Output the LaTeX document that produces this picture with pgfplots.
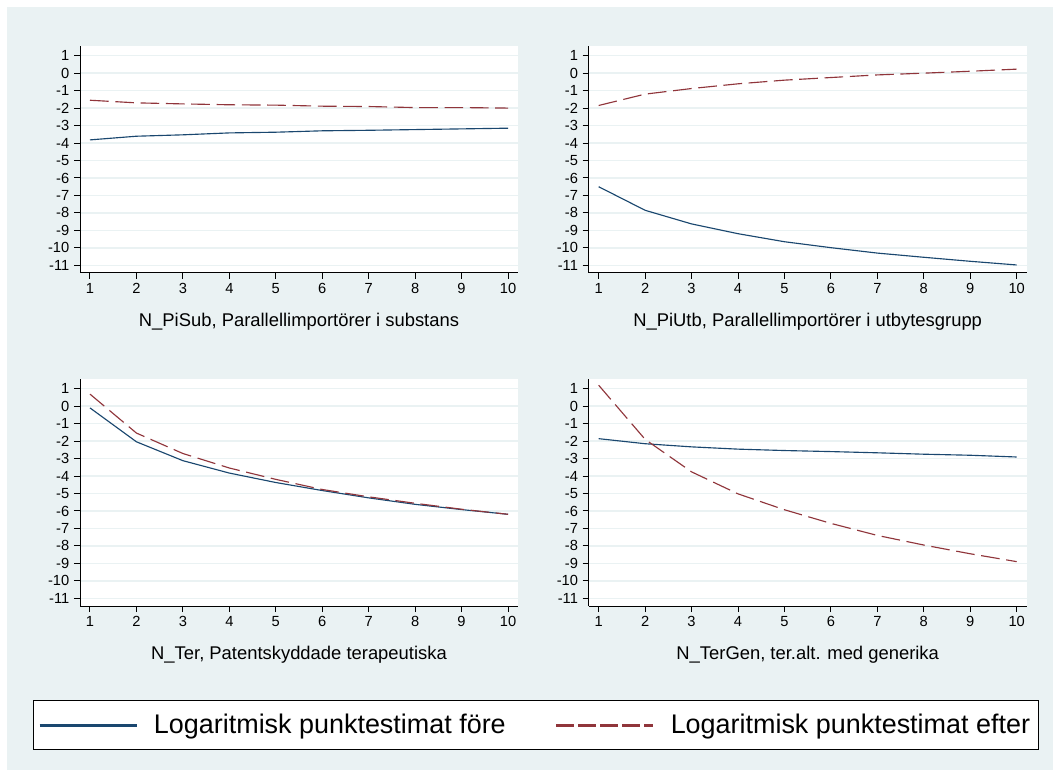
\documentclass[border=0pt]{standalone}
\usepackage{fontspec}
\setmainfont{Liberation Sans}
\usepackage{pgfplots}
\pgfplotsset{compat=1.18}
\definecolor{bgc}{RGB}{234,242,243}
\definecolor{sblue}{RGB}{26,71,111}
\definecolor{sred}{RGB}{144,53,59}
\pgfplotsset{
  stpanel/.style={
    scale only axis, width=328.5pt, height=170.25pt,
    xmin=0.785, xmax=10.215, ymin=-11.44, ymax=1.555,
    axis x line*=bottom, axis y line*=left,
    axis line style={black, line width=0.75pt},
    xtick={1,...,10}, ytick={-11,...,1},
    tick align=outside, major tick length=4.5pt,
    every tick/.style={black, line width=0.75pt},
    ymajorgrids, grid style={bgc, line width=1pt},
    axis background/.style={fill=white},
    /pgf/number format/assume math mode=true,
    ticklabel style={font=\fontsize{11}{13}\selectfont, text=black},
    xlabel style={font=\fontsize{13.8}{16}\selectfont, yshift=-7.5pt},
    clip=false,
  },
  blueline/.style={sblue, line width=0.85pt, no markers},
  redline/.style={sred, line width=0.85pt, no markers, dash pattern=on 14pt off 5pt},
}
\begin{document}
\begin{tikzpicture}
\path[fill=white] (0,0) rectangle (789.75pt,-577.5pt);
\fill[bgc] (5.25pt,-5.25pt) rectangle (789.75pt,-577.5pt);
% panel 1
\begin{axis}[stpanel, at={(60pt,-34.5pt)}, anchor=north west,
  xlabel={N\_PiSub, Parallellimportörer i substans}]
\addplot[blueline] coordinates {(1,-3.82) (2,-3.61) (3,-3.53) (4,-3.42) (5,-3.38) (6,-3.30) (7,-3.27) (8,-3.23) (9,-3.19) (10,-3.15)};
\addplot[redline] coordinates {(1,-1.55) (2,-1.70) (3,-1.76) (4,-1.81) (5,-1.83) (6,-1.89) (7,-1.91) (8,-1.97) (9,-1.97) (10,-2.00)};
\end{axis}
% panel 2
\begin{axis}[stpanel, at={(441.5pt,-34.5pt)}, anchor=north west,
  xlabel={N\_PiUtb, Parallellimportörer i utbytesgrupp}]
\addplot[blueline] coordinates {(1,-6.50) (2,-7.85) (3,-8.63) (4,-9.19) (5,-9.65) (6,-9.99) (7,-10.30) (8,-10.54) (9,-10.77) (10,-10.98)};
\addplot[redline] coordinates {(1,-1.85) (2,-1.20) (3,-0.88) (4,-0.61) (5,-0.40) (6,-0.25) (7,-0.10) (8,0.00) (9,0.11) (10,0.23)};
\end{axis}
% panel 3
\begin{axis}[stpanel, at={(60pt,-284.25pt)}, anchor=north west,
  xlabel={N\_Ter, Patentskyddade terapeutiska},
  legend columns=2,
  legend style={at={(axis description cs:1.04,-0.525)}, anchor=center,
    draw=black, line width=0.75pt, fill=white,
    font=\fontsize{20.2}{24}\selectfont,
    inner xsep=4pt, inner ysep=8.5pt,
    /tikz/every odd column/.append style={column sep=10pt},
    /tikz/every even column/.append style={column sep=35pt}},
  legend image code/.code={\draw[#1, line width=2pt] (0pt,0pt) -- (72.75pt,0pt);},
  ]
\addplot[blueline] coordinates {(1,-0.10) (2,-2.04) (3,-3.12) (4,-3.83) (5,-4.37) (6,-4.83) (7,-5.25) (8,-5.62) (9,-5.92) (10,-6.19)};
\addlegendentry{Logaritmisk punktestimat före}
\addplot[redline, forget plot] coordinates {(1,0.69) (2,-1.54) (3,-2.71) (4,-3.54) (5,-4.19) (6,-4.77) (7,-5.19) (8,-5.56) (9,-5.90) (10,-6.19)};
\addlegendimage{sred, line width=2pt, dash pattern=on 13.5pt off 3pt}
\addlegendentry{Logaritmisk punktestimat efter}
\end{axis}
% panel 4
\begin{axis}[stpanel, at={(441.5pt,-284.25pt)}, anchor=north west,
  xlabel={N\_TerGen, ter.alt. med generika}]
\addplot[blueline] coordinates {(1,-1.86) (2,-2.15) (3,-2.33) (4,-2.46) (5,-2.54) (6,-2.60) (7,-2.67) (8,-2.75) (9,-2.81) (10,-2.91)};
\addplot[redline] coordinates {(1,1.20) (2,-1.90) (3,-3.76) (4,-5.02) (5,-5.93) (6,-6.71) (7,-7.40) (8,-7.95) (9,-8.45) (10,-8.90)};
\end{axis}
\end{tikzpicture}
\end{document}
